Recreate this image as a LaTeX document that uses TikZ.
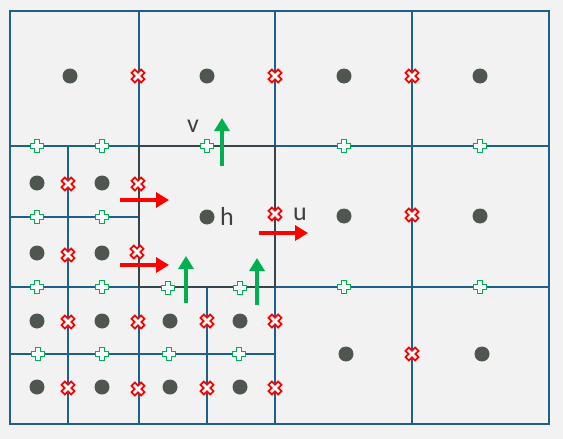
\documentclass[tikz,border=0pt]{standalone}
\usepackage{fontspec}
\setsansfont{Carlito}
\usepackage{xcolor}
\usepackage{tikz}
\usetikzlibrary{arrows.meta,backgrounds}
\definecolor{gridblue}{HTML}{1F5F8C}
\definecolor{paper}{HTML}{F2F2F2}
\definecolor{dotgrey}{HTML}{4F5650}
\definecolor{txtgrey}{HTML}{404040}
\definecolor{cellgrey}{HTML}{36444C}
\definecolor{vgreen}{HTML}{00B050}
\definecolor{ured}{HTML}{FF0000}

\begin{document}
\begin{tikzpicture}[
  x=1pt,y=-1pt,
  grid/.style={draw=gridblue,line width=1.2pt},
  cell/.style={draw=cellgrey,line width=2.2pt},
  pdot/.style={circle,fill=dotgrey,inner sep=0pt,minimum size=15pt},
  lbl/.style={text=txtgrey,font=\sffamily\fontsize{26}{30}\selectfont,anchor=base,inner sep=0pt},
  uarrow/.style={-{Triangle[length=13pt,width=15pt]},line width=4.5pt,draw=ured},
  varrow/.style={-{Triangle[length=13pt,width=15pt]},line width=4.5pt,draw=vgreen},
  vpt/.pic={\draw[vgreen,line width=1.7pt,fill=white]
    (-2.4,-6.6)--(2.4,-6.6)--(2.4,-2.4)--(6.6,-2.4)--(6.6,2.4)--(2.4,2.4)--(2.4,6.6)--(-2.4,6.6)
    --(-2.4,2.4)--(-6.6,2.4)--(-6.6,-2.4)--(-2.4,-2.4)--cycle;},
  upt/.pic={\draw[ured,line width=1.7pt,fill=white,rotate=45]
    (-2.4,-6.8)--(2.4,-6.8)--(2.4,-2.4)--(6.8,-2.4)--(6.8,2.4)--(2.4,2.4)--(2.4,6.8)--(-2.4,6.8)
    --(-2.4,2.4)--(-6.8,2.4)--(-6.8,-2.4)--(-2.4,-2.4)--cycle;}
]
\useasboundingbox[fill=paper] (0,0) rectangle (563,439);

\draw[grid] (10,11) rectangle (549,424);
\foreach \x in {139,275,412}{\draw[grid] (\x,11)--(\x,424);}
\foreach \y in {146,287}{\draw[grid] (10,\y)--(549,\y);}
\draw[grid] (68,146)--(68,424);
\draw[grid] (207,287)--(207,424);
\draw[grid] (10,217)--(139,217);
\draw[grid] (10,354)--(275,354);
\draw[cell] (139,146) rectangle (275,287);

\foreach \x/\y [count=\i] in {70/76,207/76,344/76,480/76,207/217,344/216,480/216,346/354,482/354,
  37/183,102/183,37/253,102/253,37/321,102/321,170/321,240/321,37/387,102/387,170/387,240/387}
  {\node[pdot] (p\i) at (\x,\y) {};}

\foreach \x/\y in {138/76,275/76,412/76,275/214,412/215,412/354,68/184,138/184,68/255,137/252,
  68/322,138/322,207/321,275/321,68/388,138/389,207/388,275/388}
  {\pic at (\x,\y) {upt};}

\foreach \x/\y in {37/146,102/146,207/146,344/146,480/146,37/217,102/217,37/287,102/287,168/288,
  240/288,344/287,480/287,38/354,102/354,169/354,239/354}
  {\pic at (\x,\y) {vpt};}

\node[lbl] (vlbl) at (193,132) {v};
\node[lbl] (hlbl) at (227,225) {h};
\node[lbl] (ulbl) at (300,220) {u};

\coordinate (ua1) at (120,200); \coordinate (ub1) at (169,200);
\coordinate (ua2) at (120,265); \coordinate (ub2) at (169,265);
\coordinate (ua3) at (259,233); \coordinate (ub3) at (308,233);
\coordinate (va1) at (222,166); \coordinate (vb1) at (222,118);
\coordinate (va2) at (186,303); \coordinate (vb2) at (186,256);
\coordinate (va3) at (257,305); \coordinate (vb3) at (257,258);
\foreach \i in {1,2,3}{\draw[uarrow] (ua\i)--(ub\i);}
\foreach \i in {1,2,3}{\draw[varrow] (va\i)--(vb\i);}
\end{tikzpicture}
\end{document}
